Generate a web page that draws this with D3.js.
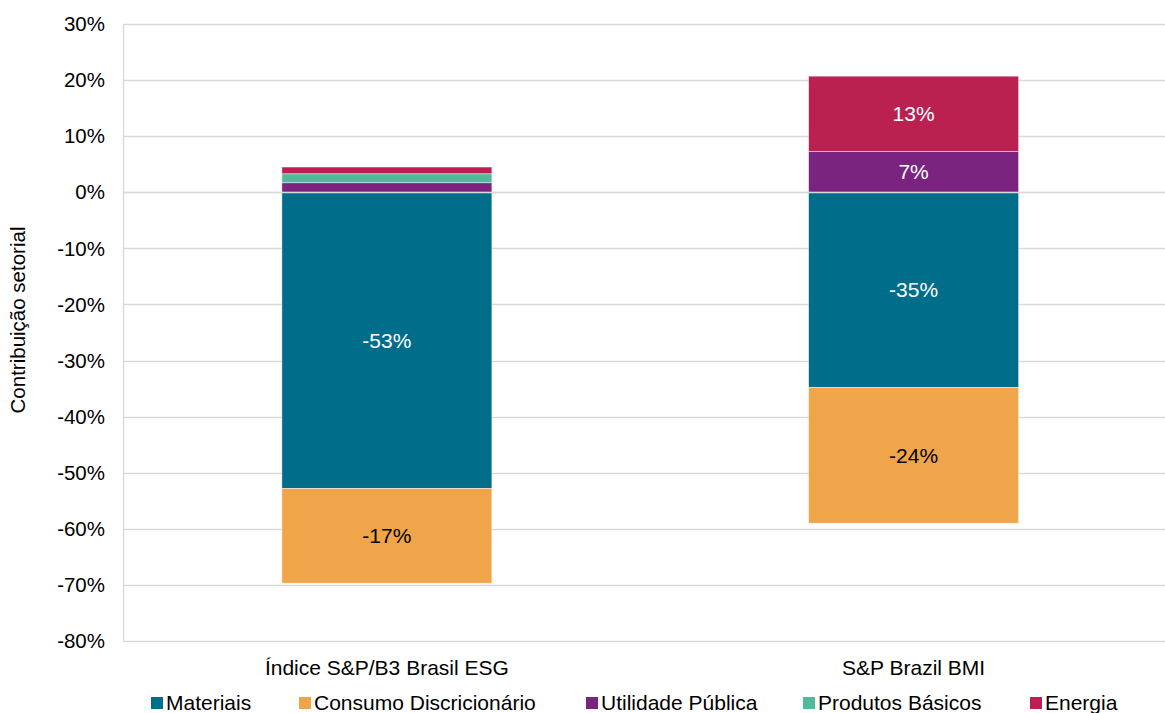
<!DOCTYPE html>
<html>
<head>
<meta charset="utf-8">
<script src="https://cdn.jsdelivr.net/npm/d3@7"></script>
<style>
  body { margin: 0; background: #fff; }
  text { font-family: "Liberation Sans", Arial, sans-serif; }
</style>
</head>
<body>
<div id="graph"></div>
<script>
const width = 1165;
const height = 713;

const categories = ["Índice S&P/B3 Brasil ESG", "S&P Brazil BMI"];
const sectors = ["Materiais", "Consumo Discricionário", "Utilidade Pública", "Produtos Básicos", "Energia"];
const colors = ["#006e8a", "#f0a54a", "#7a237f", "#53b99a", "#ba2050"];
const label_colors = ["#fff", "#000", "#fff", "#fff", "#fff"];
// values per sector, one per category (percent)
const materiais = [-52.8, -34.8];
const consumo = [-16.9, -24.2];
const utilidade = [1.7, 7.3];
const produtos = [1.6, 0];
const energia = [1.2, 13.4];
// which segments carry a label
const show_label = [[true, true, false, false, false], [true, true, true, false, true]];
const ticks = [30, 20, 10, 0, -10, -20, -30, -40, -50, -60, -70, -80];

const series = [materiais, consumo, utilidade, produtos, energia];

const plot_left = 123.5;
const plot_right = 1177;
const y = d3.scaleLinear().domain([-80, 30]).range([641, 24]);
const x = d3.scaleBand().domain(categories).range([plot_left, plot_right]).paddingInner(0).paddingOuter(0);
const bar_w = 210;

const svg = d3.select('#graph').append('svg')
  .attr('width', width)
  .attr('height', height);

// gridlines
svg.append('g').selectAll('line')
  .data(ticks)
  .join('line')
  .attr('x1', plot_left)
  .attr('x2', plot_right)
  .attr('y1', d => Math.round(y(d)) + 0.5)
  .attr('y2', d => Math.round(y(d)) + 0.5)
  .attr('stroke', '#d9d9d9')
  .attr('stroke-width', 1.3);

// left axis line
svg.append('line')
  .attr('x1', plot_left).attr('x2', plot_left)
  .attr('y1', y(30)).attr('y2', y(-80))
  .attr('stroke', '#d9d9d9')
  .attr('stroke-width', 1.3);

// tick labels
svg.append('g').selectAll('text')
  .data(ticks)
  .join('text')
  .attr('x', 105)
  .attr('y', d => y(d))
  .attr('dy', '0.35em')
  .attr('text-anchor', 'end')
  .attr('font-size', 20.5)
  .attr('fill', '#000')
  .text(d => d + '%');

// stacked bars, positives up from 0, negatives down from 0
categories.forEach((cat, ci) => {
  let pos = 0, neg = 0;
  const cx = x(cat) + x.bandwidth() / 2;
  series.forEach((s, si) => {
    const v = s[ci];
    if (v === 0) return;
    let y0, y1;
    if (v >= 0) { y0 = pos; y1 = pos + v; pos = y1; }
    else { y0 = neg; y1 = neg + v; neg = y1; }
    const top = y(Math.max(y0, y1));
    const bot = y(Math.min(y0, y1));
    svg.append('rect')
      .attr('x', cx - bar_w / 2)
      .attr('y', top)
      .attr('width', bar_w)
      .attr('height', bot - top)
      .attr('fill', colors[si])
      .attr('stroke', '#fff')
      .attr('stroke-opacity', 0.6)
      .attr('stroke-width', 0.75);
    if (show_label[ci][si]) {
      svg.append('text')
        .attr('x', cx)
        .attr('y', (top + bot) / 2)
        .attr('dy', '0.35em')
        .attr('text-anchor', 'middle')
        .attr('font-size', 21)
        .attr('fill', label_colors[si])
        .text(Math.round(v) + '%');
    }
  });
});

// zero line over bars
svg.append('line')
  .attr('x1', plot_left).attr('x2', plot_right)
  .attr('y1', Math.round(y(0)) + 0.5).attr('y2', Math.round(y(0)) + 0.5)
  .attr('stroke', '#d9d9d9')
  .attr('stroke-width', 1.3);

// category labels
svg.append('g').selectAll('text')
  .data(categories)
  .join('text')
  .attr('x', d => x(d) + x.bandwidth() / 2)
  .attr('y', 668)
  .attr('dy', '0.35em')
  .attr('text-anchor', 'middle')
  .attr('font-size', 21)
  .text(d => d);

// y axis title
svg.append('text')
  .attr('transform', `translate(25, 320) rotate(-90)`)
  .attr('text-anchor', 'middle')
  .attr('font-size', 20.5)
  .text('Contribuição setorial');

// legend
const legend_x = [151, 299, 586, 803, 1030];
const lg = svg.append('g');
sectors.forEach((s, i) => {
  lg.append('rect')
    .attr('x', legend_x[i])
    .attr('y', 697)
    .attr('width', 12)
    .attr('height', 12)
    .attr('fill', colors[i]);
  lg.append('text')
    .attr('x', legend_x[i] + 15)
    .attr('y', 703)
    .attr('dy', '0.35em')
    .attr('font-size', 21)
    .text(s);
});
</script>
</body>
</html>
